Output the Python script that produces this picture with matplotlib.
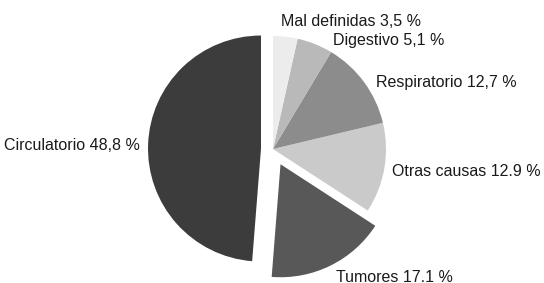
import matplotlib
matplotlib.use("Agg")
import matplotlib.pyplot as plt

categories = ["Circulatorio", "Tumores", "Otras causas", "Respiratorio", "Digestivo", "Mal definidas"]
values = [48.8, 17.1, 12.9, 12.7, 5.1, 3.5]
labels = ["Circulatorio 48,8 %", "Tumores 17.1 %", "Otras causas 12.9 %",
          "Respiratorio 12,7 %", "Digestivo 5,1 %", "Mal definidas 3,5 %"]

colors = ["#3c3c3c", "#585858", "#cacaca", "#8c8c8c", "#b9b9b9", "#ececec"]
explode = [12, 17, 0, 0, 0, 0]

W, H = 544, 283
fig = plt.figure(figsize=(W / 100, H / 100), dpi=100)
ax = fig.add_axes([0, 0, 1, 1])

ax.pie(values, colors=colors, explode=explode, startangle=90, counterclock=True,
       center=(273, H - 149), radius=113, frame=True,
       wedgeprops=dict(linewidth=0))
ax.set_xlim(0, W)
ax.set_ylim(0, H)
ax.set_aspect("equal")
ax.axis("off")

font = dict(family=["Liberation Sans", "DejaVu Sans"], fontsize=11.5, color="#1a1a1a")
label_pos = [(140, 145, "right"), (336, 277, "left"), (392, 172, "left"),
             (376, 82, "left"), (333, 41, "left"), (281, 22, "left")]
for lab, (x, y, ha) in zip(labels, label_pos):
    ax.text(x, H - y, lab, ha=ha, va="center", **font)

fig.savefig("out.png", dpi=100, facecolor="white")
